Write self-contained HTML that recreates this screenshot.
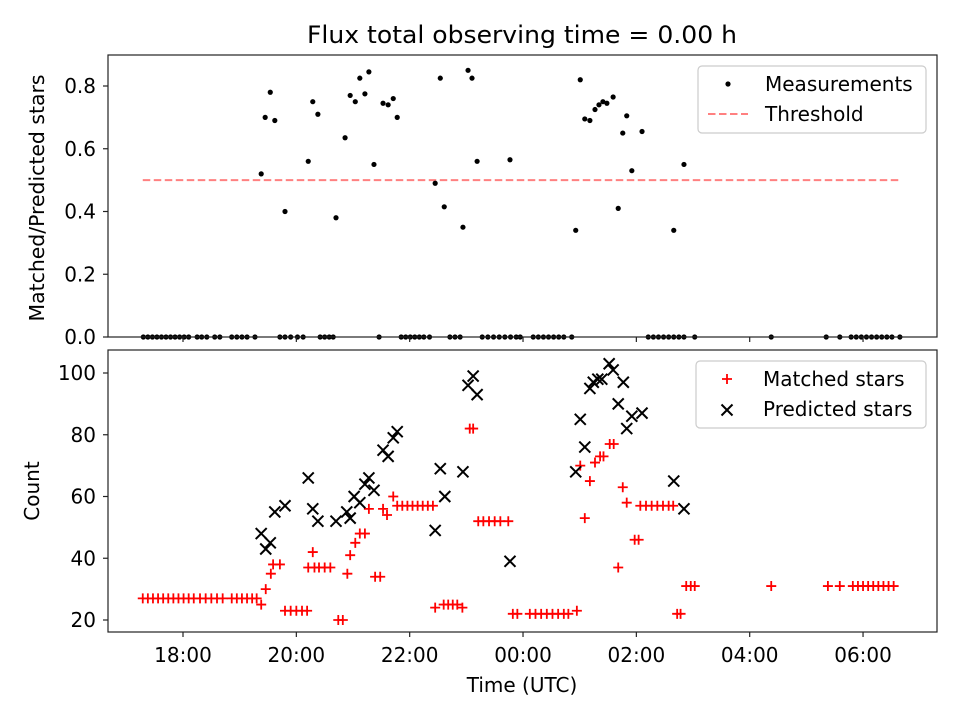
<!DOCTYPE html>
<html><head><meta charset="utf-8"><style>
body{margin:0;background:#fff;}
svg{display:block;font-family:"DejaVu Sans","Liberation Sans",sans-serif;}
</style></head><body>
<svg id="chart" width="960" height="720" viewBox="0 0 960 720">
<rect width="960" height="720" fill="#fff"/>
<text x="522" y="43" font-size="24" text-anchor="middle" textLength="430" lengthAdjust="spacingAndGlyphs">Flux total observing time = 0.00 h</text>
<g id="topPanel"></g>
<g id="botPanel"></g>
</svg>
<script>
// Time in decimal hours (values > 24 are after midnight)
const zeroTimes=[17.30,17.38,17.46,17.54,17.62,17.70,17.78,17.86,17.94,18.02,18.10,18.25,18.33,18.42,18.56,18.65,18.86,18.95,19.04,19.13,19.27,19.71,19.80,19.90,20.02,20.12,20.42,20.50,20.58,20.65,21.46,21.85,21.93,22.01,22.09,22.17,22.25,22.35,22.71,22.80,22.89,23.28,23.38,23.48,23.58,23.68,23.78,23.88,23.95,24.18,24.27,24.36,24.45,24.54,24.63,24.72,24.86,26.21,26.30,26.39,26.48,26.57,26.66,26.75,26.84,27.03,28.38,29.35,29.59,29.79,29.88,29.97,30.06,30.15,30.24,30.33,30.42,30.51,30.65];
const measTimes=[19.38,19.45,19.54,19.62,19.80,20.21,20.29,20.38,20.70,20.86,20.95,21.04,21.12,21.21,21.28,21.37,21.53,21.62,21.71,21.78,22.45,22.54,22.61,22.94,23.03,23.10,23.19,23.77,24.93,25.01,25.09,25.18,25.27,25.34,25.41,25.48,25.59,25.68,25.76,25.83,25.92,26.10,26.66,26.84];
const measValues=[0.52,0.70,0.78,0.69,0.40,0.56,0.75,0.71,0.38,0.635,0.77,0.75,0.825,0.775,0.845,0.55,0.745,0.74,0.76,0.70,0.49,0.825,0.415,0.35,0.85,0.825,0.56,0.565,0.34,0.82,0.695,0.69,0.725,0.74,0.75,0.745,0.765,0.41,0.65,0.705,0.53,0.655,0.34,0.55];
const threshold=0.5;
const matchedTimes=[17.29,17.38,17.47,17.56,17.65,17.74,17.83,17.92,18.01,18.10,18.19,18.30,18.40,18.50,18.60,18.70,18.86,18.95,19.04,19.13,19.22,19.30,19.38,19.46,19.55,19.59,19.71,19.80,19.90,20.00,20.10,20.19,20.29,20.21,20.32,20.40,20.50,20.60,20.74,20.82,20.90,20.95,21.04,21.12,21.21,21.28,21.39,21.48,21.53,21.60,21.71,21.78,21.87,21.96,22.05,22.14,22.23,22.32,22.41,22.45,22.60,22.68,22.76,22.84,22.93,23.06,23.12,23.21,23.30,23.40,23.50,23.60,23.74,23.82,23.90,24.12,24.22,24.32,24.42,24.52,24.62,24.72,24.80,24.95,25.01,25.09,25.18,25.27,25.36,25.42,25.53,25.60,25.68,25.76,25.83,25.97,26.04,26.07,26.17,26.27,26.37,26.47,26.57,26.65,26.72,26.78,26.88,26.96,27.03,28.38,29.38,29.59,29.82,29.91,30.00,30.09,30.18,30.27,30.36,30.45,30.54,30.65];
const matchedValues=[27,27,27,27,27,27,27,27,27,27,27,27,27,27,27,27,27,27,27,27,27,27,25,30,35,38,38,23,23,23,23,23,42,37,37,37,37,37,20,20,35,41,45,48,48,56,34,34,56,54,60,57,57,57,57,57,57,57,57,24,25,25,25,25,24,82,82,52,52,52,52,52,52,22,22,22,22,22,22,22,22,22,22,23,70,53,65,71,73,73,77,77,37,63,58,46,46,57,57,57,57,57,57,57,22,22,31,31,31,31,31,31,31,31,31,31,31,31,31,31,31];
const predTimes=[19.38,19.46,19.54,19.62,19.80,20.21,20.29,20.38,20.70,20.89,20.95,21.02,21.12,21.21,21.28,21.37,21.53,21.62,21.71,21.78,22.45,22.54,22.62,22.94,23.03,23.12,23.19,23.77,24.93,25.01,25.09,25.18,25.24,25.32,25.39,25.52,25.59,25.68,25.77,25.83,25.92,26.10,26.66,26.84];
const predValues=[48,43,45,55,57,66,56,52,52,55,53,60,58,64,66,62,75,73,79,81,49,69,60,68,96,99,93,39,68,85,76,95,97,98,98,103,101,90,97,82,86,87,65,56];
const topTicks=[0,0.2,0.4,0.6,0.8];
const botTicks=[20,40,60,80,100];
const xTicks=[18,20,22,24,26,28,30];
const xTickLabels=["18:00","20:00","22:00","00:00","02:00","04:00","06:00"];

const NS="http://www.w3.org/2000/svg";
const L=108,R=937;
const T1=55,B1=337,T2=350,B2=632;
const FS=20;
const xs=t=>183+(t-18)*56.67;
const y1=v=>337-v*313.75;
const y2=v=>620-(v-20)*3.0875;
function mk(tag,attrs,parent,text){const e=document.createElementNS(NS,tag);for(const k in attrs)e.setAttribute(k,attrs[k]);if(text!==undefined)e.textContent=text;parent.appendChild(e);return e;}
const topG=document.getElementById('topPanel'),botG=document.getElementById('botPanel');

// top panel
const thr=mk('line',{x1:xs(17.29),x2:xs(30.65),y1:y1(threshold),y2:y1(threshold),stroke:'#ff8080','stroke-width':2,'stroke-dasharray':'7.5,3.5'},topG);


zeroTimes.forEach(t=>{const c=mk('circle',{cx:xs(t),cy:y1(0),r:2.6,fill:'#000'},topG);

});
measTimes.forEach((t,i)=>{const c=mk('circle',{cx:xs(t),cy:y1(measValues[i]),r:2.6,fill:'#000'},topG);

});
mk('rect',{x:L,y:T1,width:R-L,height:B1-T1,fill:'none',stroke:'#222','stroke-width':1.2},topG);
topTicks.forEach(v=>{mk('line',{x1:L-5,x2:L,y1:y1(v),y2:y1(v),stroke:'#222','stroke-width':1.2},topG);
const tx=mk('text',{x:L-12,y:y1(v)+7,'font-size':FS,'text-anchor':'end'},topG,v.toFixed(1));

});
xTicks.forEach(t=>mk('line',{x1:xs(t),x2:xs(t),y1:B1,y2:B1+5,stroke:'#222','stroke-width':1.2},topG));
const yl1=mk('text',{x:0,y:0,'font-size':FS,'text-anchor':'middle',textLength:247,lengthAdjust:'spacingAndGlyphs',transform:'translate(44,198) rotate(-90)'},topG,'Matched/Predicted stars');


const lg1=mk('g',{},topG);


mk('rect',{x:698,y:66,width:228,height:67,rx:4,fill:'#fff',stroke:'#ccc','stroke-width':1.2},lg1);
mk('circle',{cx:728,cy:84,r:2.6,fill:'#000'},lg1);
mk('text',{x:765,y:91,'font-size':FS},lg1,'Measurements');
mk('line',{x1:708,x2:748,y1:114,y2:114,stroke:'#ff8080','stroke-width':2,'stroke-dasharray':'7.5,3.5'},lg1);
mk('text',{x:765,y:121,'font-size':FS},lg1,'Threshold');

// bottom panel
function plus(x,y,p){mk('path',{d:`M${x-5},${y}H${x+5}M${x},${y-5}V${y+5}`,stroke:'#f00','stroke-width':1.8,fill:'none'},p);}
function cross(x,y,p){mk('path',{d:`M${x-5.5},${y-5.5}L${x+5.5},${y+5.5}M${x-5.5},${y+5.5}L${x+5.5},${y-5.5}`,stroke:'#000','stroke-width':2,fill:'none'},p);}
matchedTimes.forEach((t,i)=>{const g=mk('g',{},botG);


plus(xs(t),y2(matchedValues[i]),g);});
predTimes.forEach((t,i)=>{const g=mk('g',{},botG);


cross(xs(t),y2(predValues[i]),g);});
mk('rect',{x:L,y:T2,width:R-L,height:B2-T2,fill:'none',stroke:'#222','stroke-width':1.2},botG);
botTicks.forEach(v=>{mk('line',{x1:L-5,x2:L,y1:y2(v),y2:y2(v),stroke:'#222','stroke-width':1.2},botG);
const tx=mk('text',{x:L-12,y:y2(v)+7,'font-size':FS,'text-anchor':'end'},botG,String(v));

});
xTicks.forEach((t,i)=>{mk('line',{x1:xs(t),x2:xs(t),y1:B2,y2:B2+5,stroke:'#222','stroke-width':1.2},botG);
const tx=mk('text',{x:xs(t),y:B2+30,'font-size':FS,'text-anchor':'middle'},botG,xTickLabels[i]);

});
const yl2=mk('text',{x:0,y:0,'font-size':FS,'text-anchor':'middle',transform:'translate(39,491) rotate(-90)'},botG,'Count');


const xl=mk('text',{x:522,y:692,'font-size':FS,'text-anchor':'middle'},botG,'Time (UTC)');


const lg2=mk('g',{},botG);


mk('rect',{x:696,y:361,width:230,height:67,rx:4,fill:'#fff',stroke:'#ccc','stroke-width':1.2},lg2);
plus(727,379,lg2);
mk('text',{x:763,y:386,'font-size':FS},lg2,'Matched stars');
cross(727,410,lg2);
mk('text',{x:763,y:416,'font-size':FS},lg2,'Predicted stars');
</script>
</body></html>
